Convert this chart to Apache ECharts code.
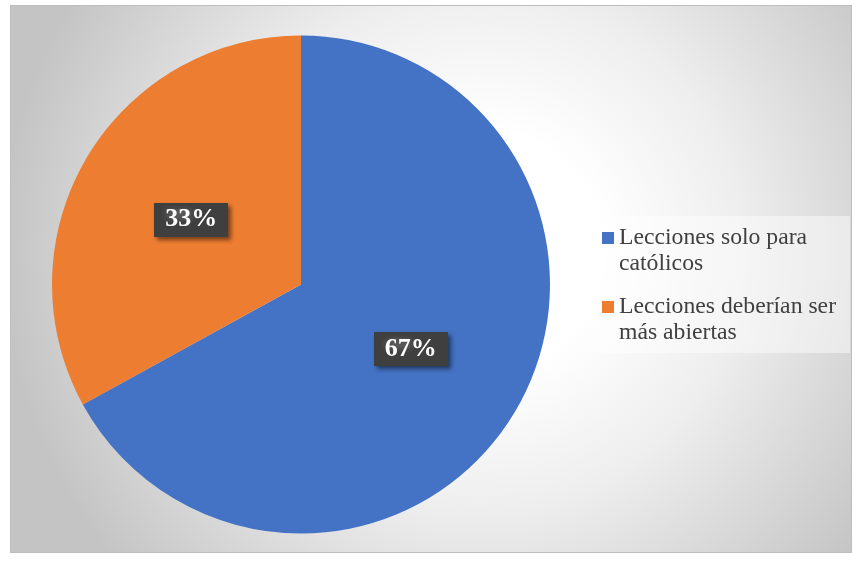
<!DOCTYPE html>
<html>
<head>
<meta charset="utf-8">
<script src="https://cdn.jsdelivr.net/npm/echarts@6/dist/echarts.min.js"></script>
<style>
  html, body { margin: 0; padding: 0; background: #ffffff; }
  #bg { position: absolute; left: 10px; top: 5px; width: 840px; height: 546px;
        border: 1px solid #bdbdbd;
        background: radial-gradient(circle at 470px 245px, #ffffff 0px, #ffffff 120px, #eeeeee 260px, #c4c4c4 480px); }
  #chart { position: absolute; left: 0; top: 0; width: 856px; height: 561px; }
</style>
</head>
<body>
<div id="bg"></div>
<div id="chart"></div>
<script>
// Data
const categories = ['Lecciones solo para católicos', 'Lecciones deberían ser más abiertas'];
const legendLines = ['Lecciones solo para\ncatólicos', 'Lecciones deberían ser\nmás abiertas'];
const values = [67, 33];
const colors = ['#4472C4', '#ED7D31'];

// dotted pattern for label boxes
const pat = document.createElement('canvas');
pat.width = 6; pat.height = 6;
const pctx = pat.getContext('2d');
pctx.fillStyle = '#3f3f3f';
pctx.fillRect(0, 0, 6, 6);
pctx.fillStyle = '#585858';
pctx.fillRect(1, 1, 2, 2);

const chart = echarts.init(document.getElementById('chart'), null, { renderer: 'canvas' });
const fontFamily = '"Liberation Serif", "Times New Roman", serif';

chart.setOption({
  backgroundColor: 'transparent',
  animation: false,
  legend: {
    orient: 'vertical',
    left: 591,
    top: 216,
    padding: [9, 14, 7, 11],
    backgroundColor: 'rgba(255,255,255,0.45)',
    itemGap: 17,
    itemWidth: 12,
    itemHeight: 52,
    icon: 'path://M0,0M0,7h12v12h-12zM0,52',
    data: categories,
    formatter: function (name) { return legendLines[categories.indexOf(name)]; },
    textStyle: {
      fontFamily: fontFamily,
      fontSize: 23.7,
      lineHeight: 26,
      color: '#404040'
    }
  },
  series: [{
    type: 'pie',
    center: [301, 284.5],
    radius: [0, 249],
    startAngle: 90,
    clockwise: true,
    label: {
      show: true,
      position: 'inside',
      formatter: function (p) { return p.value + '%'; },
      fontFamily: fontFamily,
      fontWeight: 'bold',
      fontSize: 26,
      color: '#ffffff',
      backgroundColor: { image: pat, repeat: 'repeat' },
      padding: [5, 11, 3, 11],
      shadowColor: 'rgba(0,0,0,0.5)',
      shadowBlur: 4,
      shadowOffsetX: 3,
      shadowOffsetY: 3
    },
    labelLine: { show: false },
    itemStyle: { borderWidth: 0 },
    emphasis: { disabled: true },
    data: categories.map(function (c, i) {
      return { name: c, value: values[i], itemStyle: { color: colors[i] } };
    })
  }]
});
</script>
</body>
</html>
